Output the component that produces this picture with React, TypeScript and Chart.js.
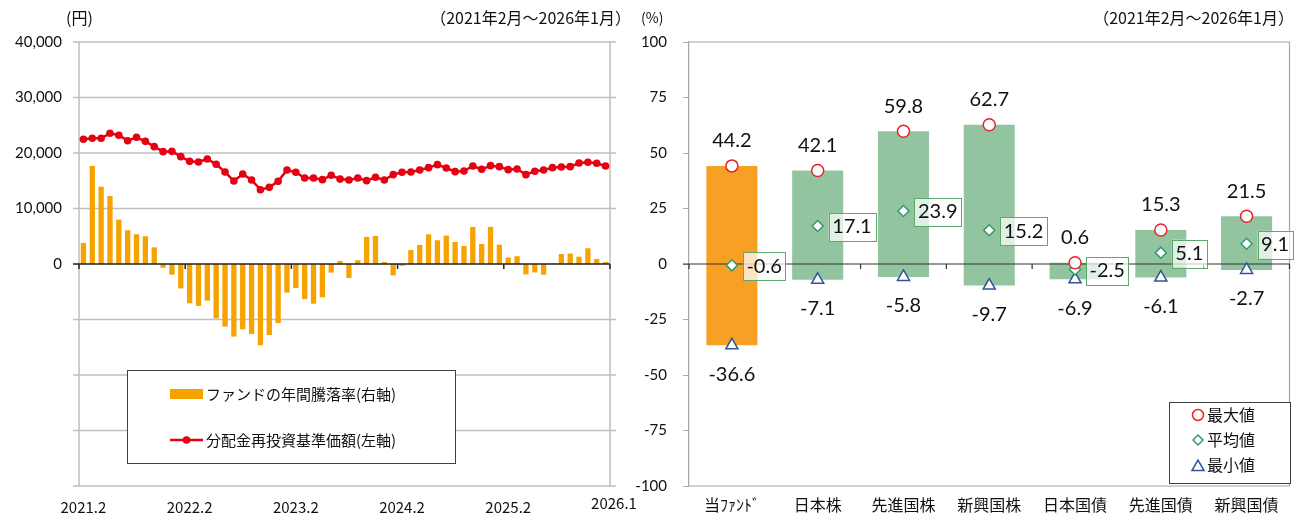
import React, { useEffect, useRef } from 'react';
import { Chart, registerables } from 'chart.js';
Chart.register(...registerables);

const months = [
  '2021.2','2021.3','2021.4','2021.5','2021.6','2021.7','2021.8','2021.9','2021.10','2021.11','2021.12','2022.1',
  '2022.2','2022.3','2022.4','2022.5','2022.6','2022.7','2022.8','2022.9','2022.10','2022.11','2022.12','2023.1',
  '2023.2','2023.3','2023.4','2023.5','2023.6','2023.7','2023.8','2023.9','2023.10','2023.11','2023.12','2024.1',
  '2024.2','2024.3','2024.4','2024.5','2024.6','2024.7','2024.8','2024.9','2024.10','2024.11','2024.12','2025.1',
  '2025.2','2025.3','2025.4','2025.5','2025.6','2025.7','2025.8','2025.9','2025.10','2025.11','2025.12','2026.1',
];

const navValues = [
  22470, 22650, 22650, 23550, 23190, 22220, 22820, 22100, 21140, 20240,
  20300, 19340, 18500, 18380, 18920, 17960, 16580, 14950, 16220, 15140,
  13390, 13810, 14890, 16940, 16520, 15500, 15500, 15200, 15980, 15300,
  15140, 15500, 15020, 15620, 15140, 16100, 16520, 16580, 16940, 17360,
  17900, 17300, 16640, 16760, 17660, 17060, 17720, 17540, 17000, 17120,
  16100, 16700, 16940, 17360, 17480, 17540, 18200, 18320, 18140, 17660,
];

const returnPct = [
  9.5, 44.2, 34.8, 30.6, 20.0, 15.2, 13.4, 12.5, 7.5, -1.7,
  -4.8, -11.0, -17.7, -18.9, -16.5, -24.5, -28.2, -32.7, -29.4, -31.5,
  -36.6, -32.0, -26.6, -12.9, -10.8, -15.8, -17.9, -15.0, -3.9, 1.4,
  -6.3, 1.7, 12.2, 12.6, 0.9, -5.1, -0.8, 6.3, 8.6, 13.4,
  10.7, 12.8, 9.9, 8.1, 16.7, 9.0, 16.7, 8.7, 2.9, 3.5,
  -4.7, -3.8, -4.8, 0.3, 4.5, 4.7, 3.3, 7.1, 2.3, 0.9,
];

const xTickLabels = ['2021.2', '2022.2', '2023.2', '2024.2', '2025.2'];
const lastTickLabel = '2026.1';

const assetCats = ['当ﾌｧﾝﾄﾞ', '日本株', '先進国株', '新興国株', '日本国債', '先進国債', '新興国債'];
const maxVals = [44.2, 42.1, 59.8, 62.7, 0.6, 15.3, 21.5];
const avgVals = [-0.6, 17.1, 23.9, 15.2, -2.5, 5.1, 9.1];
const minVals = [-36.6, -7.1, -5.8, -9.7, -6.9, -6.1, -2.7];

const JP = "'Noto Sans CJK JP', 'Noto Sans', sans-serif";
const NUM = "Lato, 'Noto Sans', sans-serif";
const GRID = '#BFBFBF';
const ORANGE = '#F6A300';
const FUND = '#F7A023';
const GREEN = '#93C4A0';
const RED = '#E60012';
const LEFT_W = 636;

function drawTriangle(ctx: CanvasRenderingContext2D, x: number, y: number, r: number) {
  ctx.beginPath();
  for (let k = 0; k < 3; k++) {
    const a = (k * 2 * Math.PI) / 3;
    const px = x + Math.sin(a) * r;
    const py = y - Math.cos(a) * r;
    if (k === 0) ctx.moveTo(px, py); else ctx.lineTo(px, py);
  }
  ctx.closePath();
}

const leftDeco = {
  id: 'leftDeco',
  beforeDatasetsDraw(chart: any) {
    const { ctx, chartArea: a, scales } = chart;
    const y = scales.y;
    ctx.save();
    ctx.strokeStyle = GRID;
    ctx.lineWidth = 1.5;
    for (let v = -40000; v <= 40000; v += 10000) {
      if (v === 0) continue;
      const py = y.getPixelForValue(v);
      ctx.beginPath();
      ctx.moveTo(a.left - 6, py);
      ctx.lineTo(a.right + 6, py);
      ctx.stroke();
    }
    ctx.beginPath();
    ctx.moveTo(a.left, a.top);
    ctx.lineTo(a.left, a.bottom);
    ctx.moveTo(a.right, a.top);
    ctx.lineTo(a.right, a.bottom);
    ctx.stroke();
    ctx.restore();
  },
  afterDatasetDraw(chart: any, args: any) {
    if (args.index !== 1) return;
    const { ctx, chartArea: a, scales } = chart;
    const py = scales.y.getPixelForValue(0);
    ctx.save();
    ctx.strokeStyle = '#222';
    ctx.lineWidth = 1.5;
    ctx.beginPath();
    ctx.moveTo(a.left - 6, py);
    ctx.lineTo(a.right, py);
    const n = months.length;
    for (let k = 0; k <= n; k += 12) {
      const px = a.left + (k * a.width) / n;
      ctx.moveTo(px, py);
      ctx.lineTo(px, py + 5);
    }
    ctx.moveTo(a.right, py);
    ctx.lineTo(a.right, py + 5);
    ctx.stroke();
    ctx.restore();
  },
  afterDraw(chart: any) {
    const { ctx } = chart;
    ctx.save();
    ctx.fillStyle = '#111';
    ctx.textBaseline = 'middle';
    ctx.font = `16px ${JP}`;
    ctx.textAlign = 'left';
    ctx.fillText('(円)', 66, 18);
    ctx.textAlign = 'right';
    ctx.fillText('（2021年2月～2026年1月）', 631, 18);
    ctx.font = `15px ${JP}`;
    ctx.textAlign = 'center';
    ctx.fillText(lastTickLabel, 614, 503);

    // legend
    ctx.fillStyle = '#fff';
    ctx.fillRect(127, 370, 328, 93);
    ctx.strokeStyle = '#404040';
    ctx.lineWidth = 1;
    ctx.strokeRect(127.5, 370.5, 328, 93);
    ctx.fillStyle = ORANGE;
    ctx.fillRect(170, 389, 33, 10);
    ctx.strokeStyle = RED;
    ctx.lineWidth = 2.5;
    ctx.beginPath();
    ctx.moveTo(170, 440);
    ctx.lineTo(203, 440);
    ctx.stroke();
    ctx.fillStyle = RED;
    ctx.beginPath();
    ctx.arc(186.5, 440, 3.8, 0, Math.PI * 2);
    ctx.fill();
    ctx.fillStyle = '#111';
    ctx.textAlign = 'left';
    ctx.font = `15px ${JP}`;
    ctx.fillText('ファンドの年間騰落率(右軸)', 206, 394);
    ctx.fillText('分配金再投資基準価額(左軸)', 206, 440);
    ctx.restore();
  },
};

const rightDeco = {
  id: 'rightDeco',
  beforeDatasetsDraw(chart: any) {
    const { ctx, chartArea: a } = chart;
    ctx.save();
    ctx.strokeStyle = '#A6A6A6';
    ctx.lineWidth = 1.2;
    ctx.beginPath();
    ctx.moveTo(a.left, a.top);
    ctx.lineTo(a.right, a.top);
    ctx.lineTo(a.right, a.bottom);
    ctx.lineTo(a.left, a.bottom);
    ctx.stroke();
    ctx.restore();
  },
  afterDatasetDraw(chart: any, args: any) {
    if (args.index !== 0) return;
    const { ctx, chartArea: a, scales } = chart;
    const py = scales.y.getPixelForValue(0);
    ctx.save();
    ctx.strokeStyle = '#333';
    ctx.lineWidth = 1.2;
    ctx.beginPath();
    ctx.moveTo(a.left - 6, py);
    ctx.lineTo(a.right, py);
    const n = assetCats.length;
    for (let k = 0; k <= n; k++) {
      const px = a.left + (k * a.width) / n;
      ctx.moveTo(px, py);
      ctx.lineTo(px, py + 5);
    }
    ctx.stroke();
    ctx.restore();
  },
  afterDraw(chart: any) {
    const { ctx, scales } = chart;
    const x = scales.x;
    const y = scales.y;
    ctx.save();
    ctx.textBaseline = 'middle';
    ctx.font = `20px ${NUM}`;
    for (let i = 0; i < assetCats.length; i++) {
      const px = x.getPixelForValue(i);
      ctx.fillStyle = '#111';
      ctx.textAlign = 'center';
      ctx.fillText(maxVals[i].toFixed(1), px, y.getPixelForValue(maxVals[i]) - 25);
      ctx.fillText(minVals[i].toFixed(1), px, y.getPixelForValue(minVals[i]) + 29);
      const t = avgVals[i].toFixed(1);
      const w = ctx.measureText(t).width;
      const ay = y.getPixelForValue(avgVals[i]);
      const bx = px + 11;
      const by = ay + 1 - 14;
      ctx.fillStyle = 'rgba(255,255,255,0.72)';
      ctx.fillRect(bx, by, w + 7, 28);
      ctx.strokeStyle = '#5EA86A';
      ctx.lineWidth = 1;
      ctx.strokeRect(Math.round(bx) + 0.5, Math.round(by) + 0.5, Math.round(w + 7), 28);
      ctx.fillStyle = '#111';
      ctx.textAlign = 'left';
      ctx.fillText(t, bx + 3.5, ay + 1);
    }

    // titles
    ctx.font = `14px ${JP}`;
    ctx.textAlign = 'left';
    ctx.fillText('(%)', 641 - LEFT_W, 18);
    ctx.font = `16px ${JP}`;
    ctx.textAlign = 'right';
    ctx.fillText('（2021年2月～2026年1月）', 1294 - LEFT_W, 18);

    // legend
    const lx = 1169 - LEFT_W;
    ctx.fillStyle = '#fff';
    ctx.fillRect(lx, 402, 121, 81);
    ctx.strokeStyle = '#404040';
    ctx.lineWidth = 1;
    ctx.strokeRect(lx + 0.5, 402.5, 121, 81);
    const mx = 1198 - LEFT_W;
    ctx.lineWidth = 1.5;
    ctx.fillStyle = '#fff';
    ctx.strokeStyle = '#E8232B';
    ctx.beginPath();
    ctx.arc(mx, 415, 5.5, 0, Math.PI * 2);
    ctx.fill();
    ctx.stroke();
    ctx.strokeStyle = '#2E9A6E';
    ctx.beginPath();
    ctx.moveTo(mx - 5, 440);
    ctx.lineTo(mx, 435);
    ctx.lineTo(mx + 5, 440);
    ctx.lineTo(mx, 445);
    ctx.closePath();
    ctx.fill();
    ctx.stroke();
    ctx.strokeStyle = '#2F5597';
    drawTriangle(ctx, mx, 467, 7);
    ctx.fill();
    ctx.stroke();
    ctx.fillStyle = '#111';
    ctx.textAlign = 'left';
    ctx.font = `16px ${JP}`;
    ctx.fillText('最大値', 1207 - LEFT_W, 415);
    ctx.fillText('平均値', 1207 - LEFT_W, 440);
    ctx.fillText('最小値', 1207 - LEFT_W, 465);
    ctx.restore();
  },
};

export default function App() {
  const leftRef = useRef<HTMLCanvasElement>(null);
  const rightRef = useRef<HTMLCanvasElement>(null);

  useEffect(() => {
    const left = new Chart(leftRef.current as HTMLCanvasElement, {
      type: 'bar',
      data: {
        labels: months,
        datasets: [
          {
            type: 'line',
            label: '分配金再投資基準価額(左軸)',
            data: navValues,
            yAxisID: 'y',
            borderColor: RED,
            backgroundColor: RED,
            borderWidth: 2.5,
            pointRadius: 3.8,
            pointBackgroundColor: RED,
            pointBorderColor: RED,
            pointBorderWidth: 0,
            tension: 0,
            order: 0,
          } as any,
          {
            type: 'bar',
            label: 'ファンドの年間騰落率(右軸)',
            data: returnPct,
            yAxisID: 'y1',
            backgroundColor: ORANGE,
            borderWidth: 0,
            barPercentage: 0.6,
            categoryPercentage: 1,
            order: 1,
          },
        ],
      },
      options: {
        animation: false,
        responsive: false,
        events: [],
        layout: { padding: { top: 42, right: LEFT_W - 610, left: 0, bottom: 0 } },
        plugins: { legend: { display: false }, tooltip: { enabled: false } },
        scales: {
          x: {
            grid: { display: false, drawTicks: false },
            border: { display: false },
            ticks: {
              autoSkip: false,
              maxRotation: 0,
              padding: 12,
              color: '#111',
              font: { family: JP, size: 15 },
              callback: (_v: any, i: number) => (xTickLabels.includes(months[i]) ? months[i] : ''),
            },
            afterFit: (s: any) => { s.height = 32; },
          },
          y: {
            position: 'left',
            min: -40000,
            max: 40000,
            grid: { display: false, drawTicks: false },
            border: { display: false },
            ticks: {
              stepSize: 10000,
              padding: 17,
              color: '#111',
              font: { family: NUM, size: 15 },
              callback: (v: any) => (v >= 0 ? Number(v).toLocaleString('en-US') : ''),
            },
            afterFit: (s: any) => { s.width = 79; },
          },
          y1: {
            display: false,
            min: -100,
            max: 100,
          },
        },
      },
      plugins: [leftDeco],
    });

    const right = new Chart(rightRef.current as HTMLCanvasElement, {
      type: 'bar',
      data: {
        labels: assetCats,
        datasets: [
          {
            type: 'bar',
            label: 'range',
            data: minVals.map((mn, i) => [mn, maxVals[i]]) as any,
            backgroundColor: assetCats.map((_, i) => (i === 0 ? FUND : GREEN)),
            borderWidth: 0,
            barPercentage: 0.595,
            categoryPercentage: 1,
            order: 1,
          },
          {
            type: 'line',
            label: '最大値',
            data: maxVals,
            showLine: false,
            pointStyle: 'circle',
            pointRadius: 6,
            pointBackgroundColor: '#fff',
            pointBorderColor: '#E8232B',
            pointBorderWidth: 1.5,
            order: 0,
          } as any,
          {
            type: 'line',
            label: '平均値',
            data: avgVals,
            showLine: false,
            pointStyle: 'rectRot',
            pointRadius: 5.5,
            pointBackgroundColor: '#fff',
            pointBorderColor: '#2E9A6E',
            pointBorderWidth: 1.5,
            order: 0,
          } as any,
          {
            type: 'line',
            label: '最小値',
            data: minVals,
            showLine: false,
            pointStyle: 'triangle',
            pointRadius: 7,
            pointBackgroundColor: '#fff',
            pointBorderColor: '#2F5597',
            pointBorderWidth: 1.5,
            order: 0,
          } as any,
        ],
      },
      options: {
        animation: false,
        responsive: false,
        events: [],
        layout: { padding: { top: 42, right: 2, left: 0, bottom: 0 } },
        plugins: { legend: { display: false }, tooltip: { enabled: false } },
        scales: {
          x: {
            grid: { display: false, drawTicks: false },
            border: { display: false },
            ticks: {
              padding: 9,
              color: '#111',
              font: { family: JP, size: 16 },
            },
            afterFit: (s: any) => { s.height = 32; },
          },
          y: {
            min: -100,
            max: 100,
            grid: { drawOnChartArea: false, drawTicks: true, tickLength: 6, color: '#A6A6A6' },
            border: { display: true, color: '#A6A6A6', width: 1.2 },
            ticks: {
              stepSize: 25,
              padding: 16,
              color: '#111',
              font: { family: NUM, size: 15 },
            },
            afterFit: (s: any) => { s.width = 689 - LEFT_W; },
          },
        },
      },
      plugins: [rightDeco],
    });

    return () => {
      left.destroy();
      right.destroy();
    };
  }, []);

  return (
    <div style={{ position: 'absolute', left: 0, top: 0, width: 1298, height: 518, background: '#fff' }}>
      <canvas ref={leftRef} width={LEFT_W} height={518} style={{ position: 'absolute', left: 0, top: 0 }} />
      <canvas ref={rightRef} width={1298 - LEFT_W} height={518} style={{ position: 'absolute', left: LEFT_W, top: 0 }} />
    </div>
  );
}
